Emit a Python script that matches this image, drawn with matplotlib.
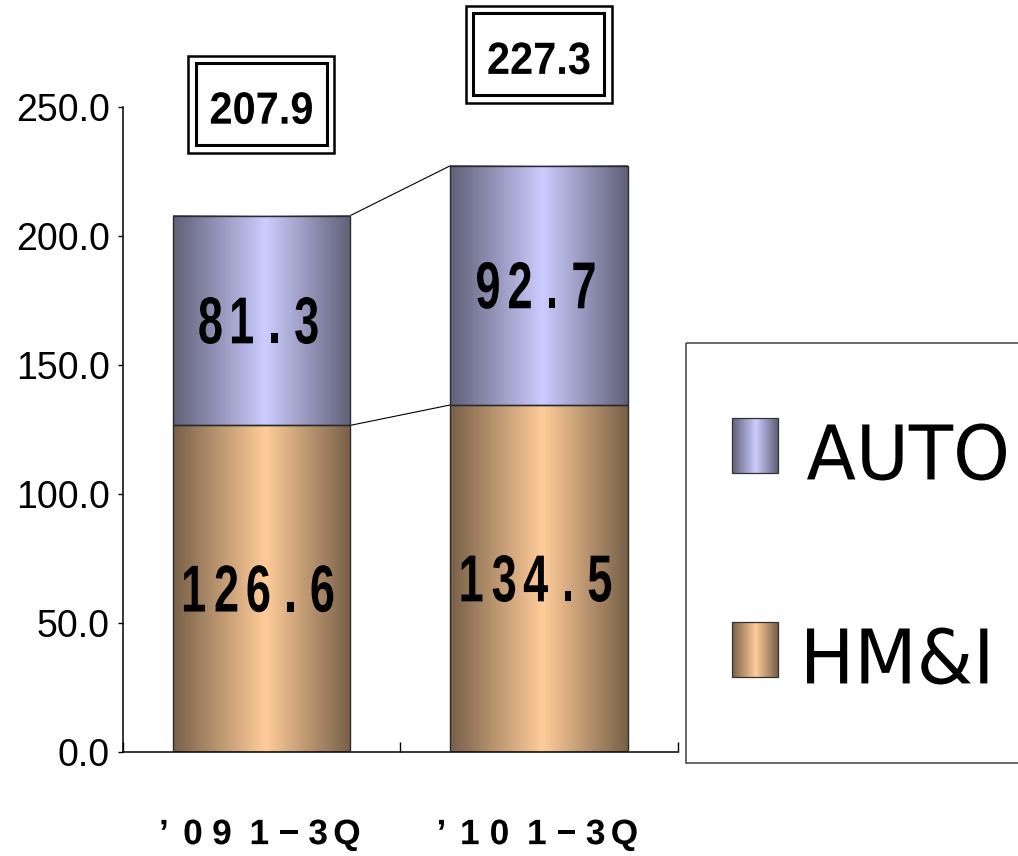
import numpy as np
import matplotlib
matplotlib.use('Agg')
import matplotlib.pyplot as plt
import matplotlib.colors as mcolors
from matplotlib.textpath import TextPath
from matplotlib.patches import PathPatch, Rectangle
from matplotlib.font_manager import FontProperties
from matplotlib.transforms import Affine2D, ScaledTranslation

plt.rcParams['font.family'] = ['Liberation Sans', 'DejaVu Sans']

# data
categories = ["’09 1−3Q", "’10 1−3Q"]
hmi = [126.6, 134.5]
auto = [81.3, 92.7]
totals = [207.9, 227.3]
series_names = ["AUTO", "HM&I"]
yticks = [0, 50, 100, 150, 200, 250]

auto_color = '#ccccff'
hmi_color = '#ffcc99'


def shade(color, n=256, peak=0.52, dark=0.47):
    # dark -> light -> dark, like the excel cylinder fill
    rgb = np.array(mcolors.to_rgb(color))
    t = np.linspace(0, 1, n)
    f = np.where(t < peak, t / peak, (1 - t) / (1 - peak))
    k = dark + (1 - dark) * f
    return (rgb[None, :] * k[:, None])[None, :, :]


def path_text(ax, s, x, y, trans, height, sx=1.0, pitch=None, space=None,
              dx=0, dy=0, ha='center', weight='bold', family='Liberation Sans',
              color='black'):
    """text drawn as a path so it can be squeezed / spaced like the original"""
    prop = FontProperties(family=family, weight=weight)
    ref = TextPath((0, 0), '8', size=100, prop=prop).get_extents()
    k = height / ref.height
    yoff = -ref.y0 - ref.height / 2
    anchor = ScaledTranslation(x, y, trans)
    if pitch is None:
        tp = TextPath((0, 0), s, size=100, prop=prop)
        bb = tp.get_extents()
        x0 = bb.x0 if ha == 'left' else (bb.x0 + bb.x1) / 2
        t = Affine2D().translate(-x0, yoff).scale(k * sx, k).translate(dx, dy) + anchor
        ax.add_patch(PathPatch(tp, transform=t, fc=color, lw=0, clip_on=False, zorder=6))
        return
    widths = [space if ch == ' ' else pitch for ch in s]
    pos = -sum(widths) / 2
    for ch, w in zip(s, widths):
        c = pos + w / 2
        pos += w
        if ch == ' ':
            continue
        tp = TextPath((0, 0), ch, size=100, prop=prop)
        bb = tp.get_extents()
        t = (Affine2D().translate(-(bb.x0 + bb.x1) / 2, yoff).scale(k * sx, k)
             .translate(c + dx, dy) + anchor)
        ax.add_patch(PathPatch(tp, transform=t, fc=color, lw=0, clip_on=False, zorder=6))


fig = plt.figure(figsize=(10.18, 8.56), dpi=100)
ax = fig.add_axes([0.1205, 0.1215, 0.5452, 0.7535])

x = np.arange(len(categories))
width = 0.64
tops = np.array(hmi) + np.array(auto)

b1 = ax.bar(x, hmi, width, facecolor='none', edgecolor='#2b2b2b', linewidth=1.0, zorder=3)
b2 = ax.bar(x, auto, width, bottom=hmi, facecolor='none', edgecolor='#2b2b2b',
            linewidth=1.0, zorder=3)
for bars, color in ((b1, hmi_color), (b2, auto_color)):
    grad = shade(color)
    for r in bars:
        ax.imshow(grad, extent=[r.get_x(), r.get_x() + r.get_width(),
                                r.get_y(), r.get_y() + r.get_height()],
                  aspect='auto', interpolation='bilinear', zorder=2)

# series lines between the bars
for level in (hmi, tops):
    ax.plot([x[0] + width / 2, x[1] - width / 2], [level[0], level[1]],
            color='black', lw=0.8, zorder=1)

# segment values
for xi, h, a in zip(x, hmi, auto):
    path_text(ax, f"{h:.1f}", xi, h / 2, ax.transData, height=47, sx=0.68, pitch=32, dx=-3)
    path_text(ax, f"{a:.1f}", xi, h + a / 2, ax.transData, height=47, sx=0.68, pitch=32, dx=-3)

# totals in double boxes
box_w, box_h, gap = 146, 97, 63
for xi, top, t in zip(x, tops, totals):
    anchor = ScaledTranslation(xi, top, ax.transData)
    ax.add_patch(Rectangle((-box_w / 2, gap), box_w, box_h, transform=anchor,
                           fc='white', ec='black', lw=1.8, clip_on=False, zorder=5))
    ax.add_patch(Rectangle((-box_w / 2 + 7.5, gap + 7.5), box_w - 15, box_h - 15,
                           transform=anchor, fill=False, ec='black', lw=2.2,
                           clip_on=False, zorder=5))
    path_text(ax, f"{t:.1f}", xi, top, ax.transData, height=32, sx=0.92,
              dy=gap + box_h / 2 - 4)

# category labels
for xi, cat in zip(x, categories):
    path_text(ax, cat, xi, 0, ax.transData, height=25, sx=1.0, pitch=29, space=9,
              dx=-6, dy=-80)

ax.set_xlim(-0.5, 1.5)
ax.set_ylim(0, 250)
ax.set_yticks(yticks)
ax.set_yticklabels([f"{v:.1f}" for v in yticks])
ax.set_xticks([-0.5, 0.5, 1.5])
ax.tick_params(axis='x', direction='in', length=7.2, width=1, labelbottom=False)
ax.tick_params(axis='y', direction='out', length=3.6, width=1, labelsize=27, pad=5.5)
for side in ('top', 'right'):
    ax.spines[side].set_visible(False)
for side in ('left', 'bottom'):
    ax.spines[side].set_linewidth(1.1)

# legend, drawn by hand in pixel coordinates
ov = fig.add_axes([0, 0, 1, 1], zorder=5)
ov.set_xlim(0, 1018)
ov.set_ylim(856, 0)
ov.axis('off')
ov.patch.set_visible(False)
ov.add_patch(Rectangle((686.5, 343), 420, 420, fill=False, ec='#404040', lw=1.1))
for name, color, yc, ty in zip(series_names, [auto_color, hmi_color], [445.5, 649.5], [452, 656]):
    ov.imshow(shade(color), extent=[732, 778, yc + 27.5, yc - 27.5], aspect='auto',
              interpolation='bilinear')
    ov.add_patch(Rectangle((732, yc - 27.5), 46, 55, fill=False, ec='#333333', lw=0.9))
    path_text(ov, name, 807, ty, ov.transData, height=57, sx=0.96, ha='left',
              weight='normal', family='DejaVu Sans')
ov.set_xlim(0, 1018)
ov.set_ylim(856, 0)

fig.savefig('out.png', dpi=100)
